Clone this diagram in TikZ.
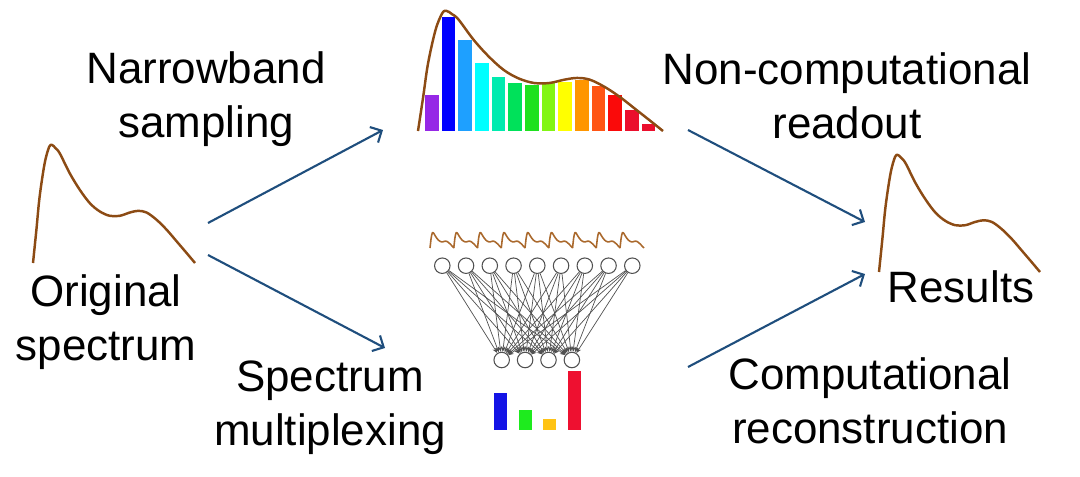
\documentclass[tikz,border=0pt]{standalone}
\usepackage{fontspec}
\setmainfont{Liberation Sans}
\usetikzlibrary{arrows.meta}
\definecolor{specbrown}{RGB}{140,75,20}
\definecolor{minibrown}{RGB}{170,105,45}
\definecolor{arrowblue}{RGB}{31,78,125}
\definecolor{netgray}{RGB}{80,80,80}
\definecolor{b1}{RGB}{150,40,230}
\definecolor{b2}{RGB}{0,0,255}
\definecolor{b3}{RGB}{30,160,255}
\definecolor{b4}{RGB}{0,255,255}
\definecolor{b5}{RGB}{0,235,175}
\definecolor{b6}{RGB}{0,225,90}
\definecolor{b7}{RGB}{30,225,30}
\definecolor{b8}{RGB}{130,245,20}
\definecolor{b9}{RGB}{255,255,0}
\definecolor{b10}{RGB}{255,150,0}
\definecolor{b11}{RGB}{255,85,20}
\definecolor{b12}{RGB}{250,10,10}
\definecolor{b13}{RGB}{235,15,45}
\definecolor{b14}{RGB}{235,15,45}
\definecolor{mblue}{RGB}{20,20,230}
\definecolor{mgreen}{RGB}{30,235,30}
\definecolor{mgold}{RGB}{255,195,20}
\definecolor{mred}{RGB}{238,16,48}
\newcommand{\speccurve}{plot[smooth,tension=0.55] coordinates {(0,0) (0.021,0.282) (0.041,0.563) (0.072,0.845) (0.100,0.985) (0.118,1.0) (0.138,0.975) (0.165,0.93) (0.227,0.76) (0.289,0.62) (0.351,0.507) (0.412,0.437) (0.474,0.40) (0.536,0.40) (0.598,0.428) (0.649,0.442) (0.701,0.428) (0.763,0.366) (0.825,0.282) (0.887,0.183) (0.948,0.085) (1,0)}}
\tikzset{
  label text/.style={font=\fontsize{25}{30.2}\selectfont, align=center, anchor=base, inner sep=0pt},
  flow/.style={draw=arrowblue, line width=1.2pt, -{Straight Barb[length=5pt,width=10pt,line width=1.2pt]}},
  spec/.style={draw=specbrown, line width=1.4pt, line join=round},
  mini/.style={draw=minibrown, line width=0.9pt, line join=round},
  neuron/.style={circle, draw=netgray, fill=white, line width=0.6pt, minimum size=15.5*0.02cm, inner sep=0pt},
  link/.style={draw=netgray, line width=0.4pt, -{Stealth[length=3pt,width=2.5pt]}}
}
\begin{document}
\begin{tikzpicture}[x=0.02cm,y=-0.02cm]
\useasboundingbox (0,0) rectangle (1080,477);
% Original spectrum
\begin{scope}[shift={(33,263)},xscale=162,yscale=-118]
  \draw[spec] \speccurve;
\end{scope}
% Results
\begin{scope}[shift={(879,272)},xscale=161,yscale=-117]
  \draw[spec] \speccurve;
\end{scope}
% Narrowband bars
\foreach \i/\top in {1/95,2/16.7,3/40,4/63,5/77,6/83,7/85,8/83,9/82,10/80,11/86,12/95,13/110,14/124}{
  \fill[b\i] ({425+(\i-1)*16.67},131) rectangle ++(13.5,{\top-131});
}
\begin{scope}[shift={(418,131)},xscale=245,yscale=-120]
  \draw[spec] \speccurve;
\end{scope}
% Network
\foreach \i in {1,...,9}{
  \node[neuron] (t\i) at ({442.3+(\i-1)*23.75},265.7) {};
  \begin{scope}[shift={({430+(\i-1)*23.75},248)},xscale=24,yscale=-15.5]
    \draw[mini] \speccurve;
  \end{scope}
}
\foreach \j in {1,...,4}{
  \node[neuron] (o\j) at ({501.7+(\j-1)*23.4},360) {};
}
\foreach \i in {1,...,9}{
  \foreach \j in {1,...,4}{
    \draw[link] (t\i) -- (o\j);
  }
}
% Output bars
\fill[mblue] (494,430) rectangle (507.3,393.3);
\fill[mgreen] (519,430) rectangle (531.7,410);
\fill[mgold] (542.7,430) rectangle (555.7,419.3);
\fill[mred] (567.7,430) rectangle (581,370.7);
% Labels (base anchor = baseline of the last line)
\node[label text] (nb) at (206,137) {Narrowband\\sampling};
\node[label text] (nc) at (847,138) {Non-computational\\readout};
\node[label text] (os) at (106,360) {Original\\spectrum};
\node[label text] (sm) at (330,445) {Spectrum\\multiplexing};
\node[label text] (rs) at (961,302) {Results};
\node[label text] (cr) at (870,443) {Computational\\reconstruction};
% Arrows
\coordinate (a1s) at (208,223); \coordinate (a1e) at (383,130);
\coordinate (a2s) at (208,255); \coordinate (a2e) at (385,348);
\coordinate (a3s) at (688,130); \coordinate (a3e) at (865,222);
\coordinate (a4s) at (688,367); \coordinate (a4e) at (865,274);
\draw[flow] (a1s) -- (a1e);
\draw[flow] (a2s) -- (a2e);
\draw[flow] (a3s) -- (a3e);
\draw[flow] (a4s) -- (a4e);
\end{tikzpicture}
\end{document}
